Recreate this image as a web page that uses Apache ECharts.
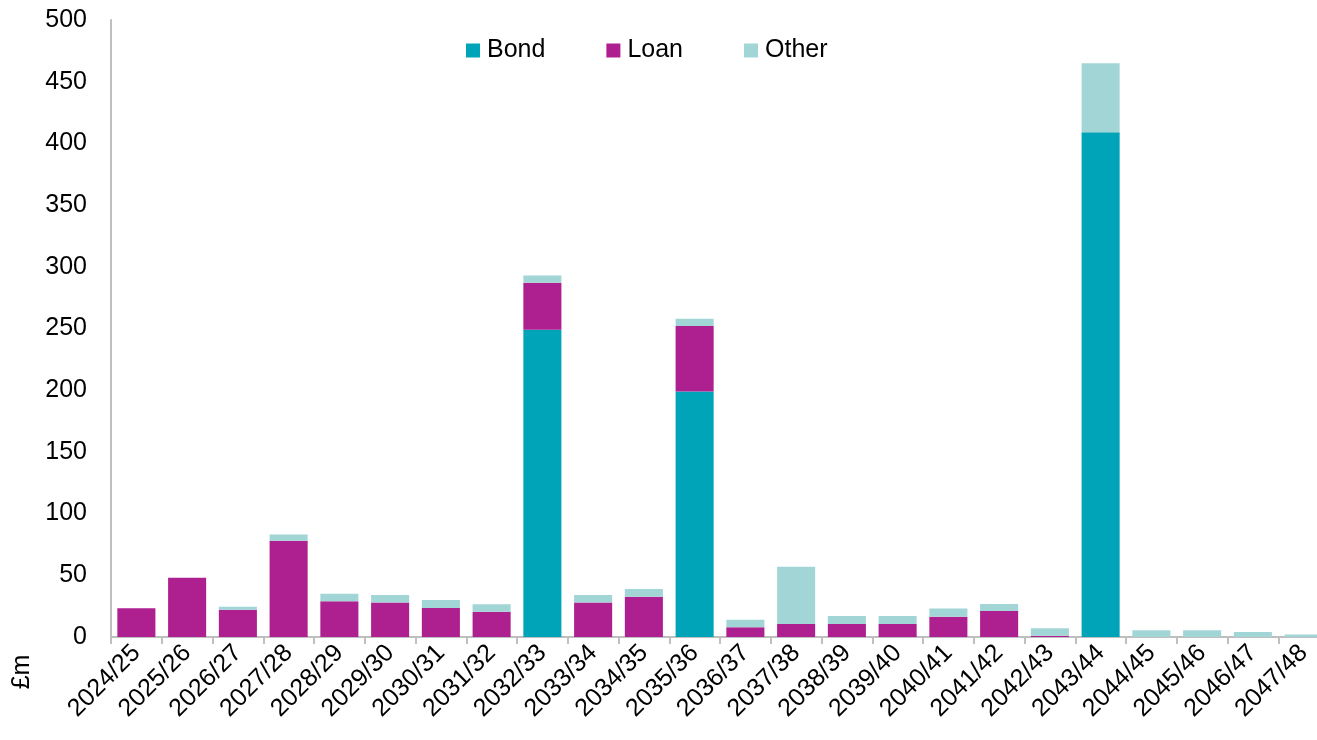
<!DOCTYPE html>
<html>
<head>
<meta charset="utf-8">
<script src="https://cdn.jsdelivr.net/npm/echarts@6/dist/echarts.min.js"></script>
<style>
  html, body { margin: 0; padding: 0; background: #ffffff; }
  #chart { width: 1317px; height: 740px; }
</style>
</head>
<body>
<div id="chart"></div>
<script>
// Financial years
const years = ['2024/25','2025/26','2026/27','2027/28','2028/29','2029/30','2030/31','2031/32',
  '2032/33','2033/34','2034/35','2035/36','2036/37','2037/38','2038/39','2039/40',
  '2040/41','2041/42','2042/43','2043/44','2044/45','2045/46','2046/47','2047/48'];

// Repayments by instrument, £m
const bond  = [0, 0, 0, 0, 0, 0, 0, 0, 249, 0, 0, 199, 0, 0, 0, 0, 0, 0, 0, 409, 0, 0, 0, 0];
const loan  = [23.3, 48, 22, 78, 29, 28, 23.5, 20.5, 38, 28, 32.7, 53, 8, 10.5, 10.5, 10.5, 16.5, 21, 1, 0, 0, 0, 0, 0];
const other = [0, 0, 2.5, 5, 6, 6, 6.5, 6, 6, 6, 6.2, 6, 6, 46.5, 6.5, 6.5, 6.5, 5.7, 6, 56, 5.5, 5.5, 4, 2];

// Value axis ticks
const yTicks = [0, 50, 100, 150, 200, 250, 300, 350, 400, 450, 500];

const FONT = '"Liberation Sans", Arial, sans-serif';
const AXIS_GREY = '#bfbfbf';

const chart = echarts.init(document.getElementById('chart'), null, { renderer: 'canvas' });

function barSeries(name, data, color) {
  return {
    name: name,
    type: 'bar',
    stack: 'total',
    data: data,
    barCategoryGap: '25%',
    itemStyle: { color: color },
    emphasis: { disabled: true }
  };
}

chart.setOption({
  animation: false,
  textStyle: { fontFamily: FONT },
  // plot area runs slightly past the right edge of the canvas
  grid: { left: 111, width: 1218, top: 20, height: 617, containLabel: false, outerBoundsMode: 'none' },
  legend: {
    left: 461,
    top: 33,
    itemWidth: 14,
    itemHeight: 14,
    itemGap: 61,
    icon: 'rect',
    textStyle: { fontFamily: FONT, fontSize: 25, color: '#000', padding: [0, 0, 0, 2] },
    data: ['Bond', 'Loan', 'Other']
  },
  xAxis: {
    type: 'category',
    data: years,
    boundaryGap: true,
    axisLine: { show: true, lineStyle: { color: AXIS_GREY, width: 2 } },
    axisTick: { show: true, alignWithLabel: false, length: 7, lineStyle: { color: AXIS_GREY, width: 2 } },
    axisLabel: {
      interval: 0,
      rotate: 45,
      margin: 12,
      color: '#000',
      fontFamily: FONT,
      fontSize: 25
    }
  },
  yAxis: {
    type: 'value',
    min: yTicks[0],
    max: yTicks[yTicks.length - 1],
    interval: yTicks[1] - yTicks[0],
    axisLine: { show: true, lineStyle: { color: AXIS_GREY, width: 2 } },
    axisTick: { show: false },
    splitLine: { show: false },
    axisLabel: { margin: 24, color: '#000', fontFamily: FONT, fontSize: 25 }
  },
  graphic: [{
    type: 'text',
    x: 22,
    y: 672,
    rotation: Math.PI / 2,
    style: {
      text: '£m',
      font: '25px ' + FONT,
      fill: '#000',
      align: 'center',
      verticalAlign: 'middle'
    }
  }],
  series: [
    barSeries('Bond', bond, '#00a4b9'),
    barSeries('Loan', loan, '#ae208f'),
    barSeries('Other', other, '#a2d6d6')
  ]
});
</script>
</body>
</html>
